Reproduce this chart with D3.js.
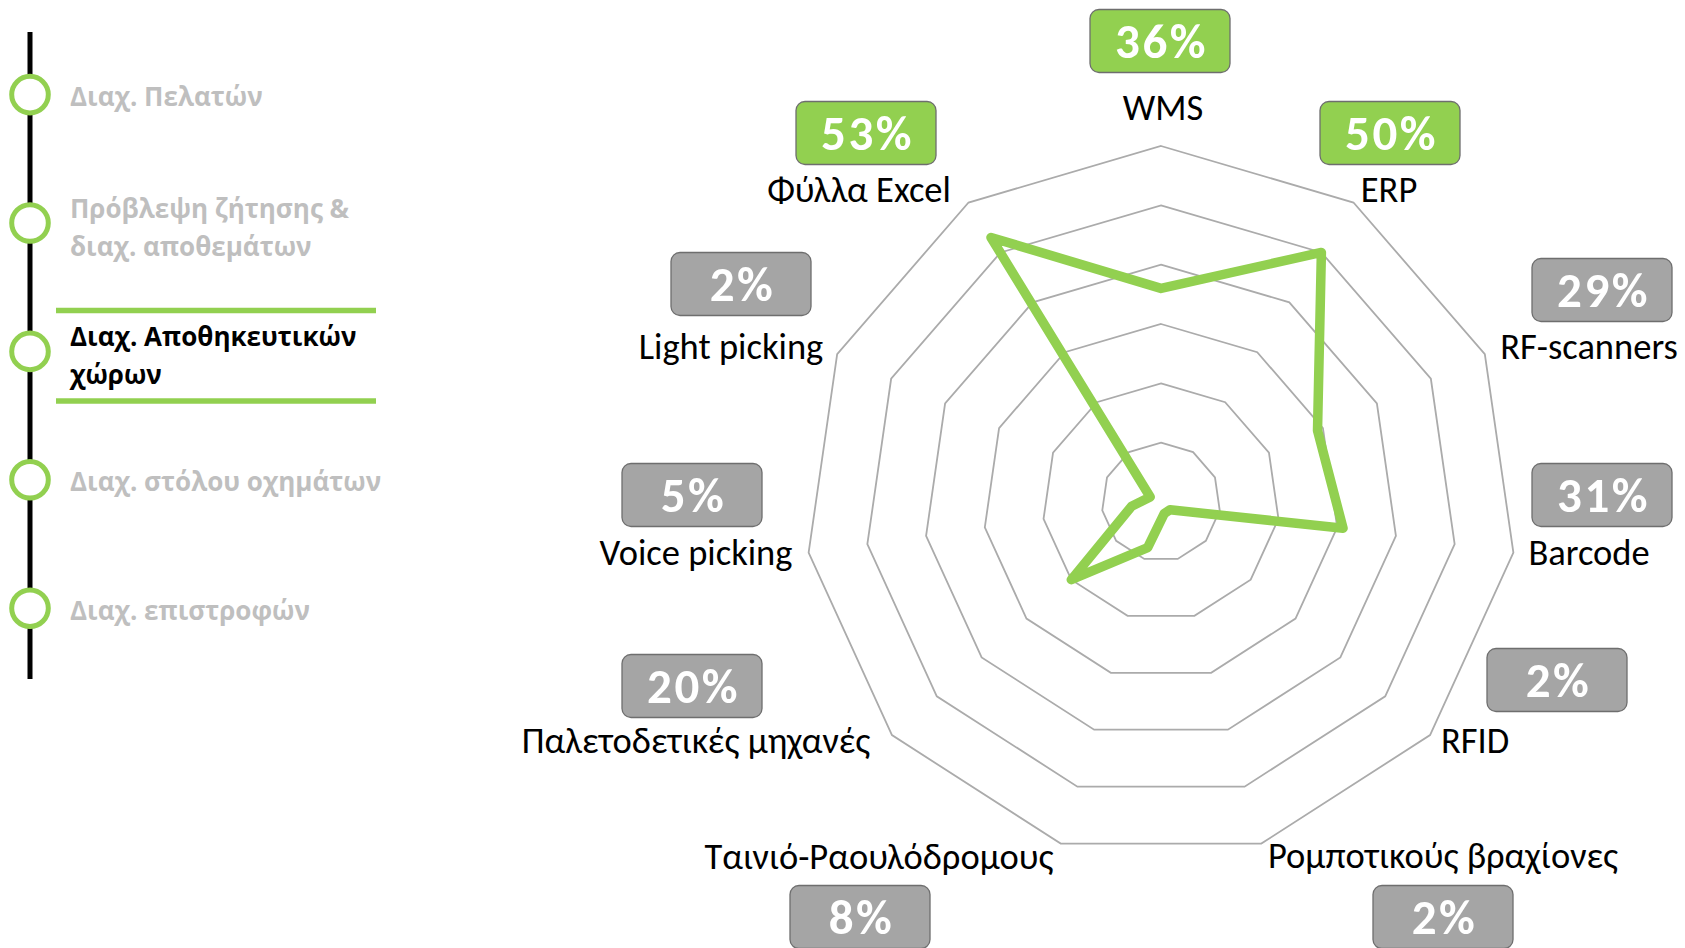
<!DOCTYPE html>
<html>
<head>
<meta charset="utf-8">
<script src="https://cdn.jsdelivr.net/npm/d3@7"></script>
<style>
  body { margin: 0; background: #fff; }
</style>
</head>
<body>
<div id="chart"></div>
<script>
// data
var categories = ["WMS", "ERP", "RF-scanners", "Barcode", "RFID", "Ρομποτικούς βραχίονες",
  "Ταινιό-Ραουλόδρομους", "Παλετοδετικές μηχανές", "Voice picking", "Light picking", "Φύλλα Excel"];
var values = [36, 50, 29, 31, 2, 2, 8, 20, 5, 2, 53];
var ringTicks = [10, 20, 30, 40, 50, 60];
var menuItems = [
  ["Διαχ. Πελατών"],
  ["Πρόβλεψη ζήτησης &", "διαχ. αποθεμάτων"],
  ["Διαχ. Αποθηκευτικών", "χώρων"],
  ["Διαχ. στόλου οχημάτων"],
  ["Διαχ. επιστροφών"]
];
var activeItem = 2;

// svg container
var svgWidth = 1685;
var svgHeight = 948;

// radar geometry
var cx = 1161, cy = 502, radius = 356;

// where the labels and value boxes sit (hand placed, like the original)
var labelPos = [[1163, 108], [1389, 190], [1589, 347], [1589, 553], [1475, 741], [1443, 856],
  [879, 857], [696, 741], [696, 553], [731, 347], [859, 190]];
var boxPos = [[1160, 41], [1390, 133], [1602, 290], [1602, 495], [1557, 680], [1443, 917],
  [860, 917], [692, 686], [692, 495], [741, 284], [866, 133]];

var green = "#92D050";
var grey = "#A5A5A5";

var svg = d3.select("#chart")
  .append("svg")
  .attr("width", svgWidth)
  .attr("height", svgHeight);

/////////////// LEFT MENU /////////////////////////

var menuY = d3.scaleLinear()
  .domain([0, menuItems.length - 1])
  .range([94.6, 608.2]);

var menu = svg.append("g");

menu.append("line")
  .attr("x1", 30).attr("x2", 30)
  .attr("y1", 32).attr("y2", 679)
  .attr("stroke", "#000")
  .attr("stroke-width", 5);

// green bars round the active item
[-41, 49.5].forEach(function(off) {
  menu.append("line")
    .attr("x1", 56).attr("x2", 376)
    .attr("y1", menuY(activeItem) + off).attr("y2", menuY(activeItem) + off)
    .attr("stroke", green)
    .attr("stroke-width", 5.5);
});

menu.selectAll("circle")
  .data(menuItems)
  .enter()
  .append("circle")
  .attr("cx", 30)
  .attr("cy", (d, i) => menuY(i))
  .attr("r", 18.3)
  .attr("fill", "#fff")
  .attr("stroke", green)
  .attr("stroke-width", 5);

menuItems.forEach(function(lines, i) {
  var y0 = lines.length === 1 ? menuY(i) + 11.5 : menuY(i) - 5;
  var t = menu.append("text")
    .attr("x", 70)
    .attr("y", y0)
    .style("font-family", "'Open Sans', 'Noto Sans', sans-serif")
    .style("font-weight", "bold")
    .style("font-size", "26px")
    .attr("fill", i === activeItem ? "#000" : "#BFBFBF");
  lines.forEach(function(line, j) {
    t.append("tspan")
      .attr("x", 70)
      .attr("y", y0 + j * 37.5)
      .text(line);
  });
});

/////////////// RADAR /////////////////////////

var n = categories.length;
var angle = d3.scaleLinear().domain([0, n]).range([0, 2 * Math.PI]);
var rScale = d3.scaleLinear().domain([0, 60]).range([0, radius]);

var radar = svg.append("g")
  .attr("transform", `translate(${cx}, ${cy})`);

var ringLine = d3.lineRadial()
  .angle((d, i) => angle(i))
  .radius(d => rScale(d))
  .curve(d3.curveLinearClosed);

// grid rings
radar.selectAll("path.ring")
  .data(ringTicks)
  .enter()
  .append("path")
  .attr("class", "ring")
  .attr("d", t => ringLine(categories.map(() => t)))
  .attr("fill", "none")
  .attr("stroke", "#ABABAB")
  .attr("stroke-width", 1.8);

// data line
radar.append("path")
  .attr("d", ringLine(values))
  .attr("fill", "none")
  .attr("stroke", green)
  .attr("stroke-width", 9.5)
  .attr("stroke-linejoin", "round");

// top three get the green box
var ranked = values.slice().sort((a, b) => b - a);
var cut = ranked[2];

// category labels
svg.selectAll("text.cat")
  .data(categories)
  .enter()
  .append("text")
  .attr("class", "cat")
  .attr("x", (d, i) => labelPos[i][0])
  .attr("y", (d, i) => labelPos[i][1])
  .attr("dy", "0.34em")
  .attr("text-anchor", "middle")
  .style("font-family", "Carlito, Calibri, Lato, sans-serif")
  .style("font-size", "36.5px")
  .attr("fill", "#000")
  .text(d => d);

// value boxes
var boxW = 140, boxH = 63;
var boxes = svg.selectAll("g.box")
  .data(values)
  .enter()
  .append("g")
  .attr("class", "box")
  .attr("transform", (d, i) => `translate(${boxPos[i][0]}, ${boxPos[i][1]})`);

boxes.append("rect")
  .attr("x", -boxW / 2)
  .attr("y", -boxH / 2)
  .attr("width", boxW)
  .attr("height", boxH)
  .attr("rx", 9)
  .attr("fill", d => d >= cut ? green : grey)
  .attr("stroke", "#6E6E6E")
  .attr("stroke-width", 1.3);

boxes.append("text")
  .attr("text-anchor", "middle")
  .attr("dy", "0.35em")
  .attr("dx", 1.5)
  .style("font-family", "Carlito, Calibri, Lato, sans-serif")
  .style("font-weight", "900")
  .style("font-size", "49px")
  .style("letter-spacing", "2.5px")
  .attr("fill", "#fff")
  .text(d => d + "%");
</script>
</body>
</html>
